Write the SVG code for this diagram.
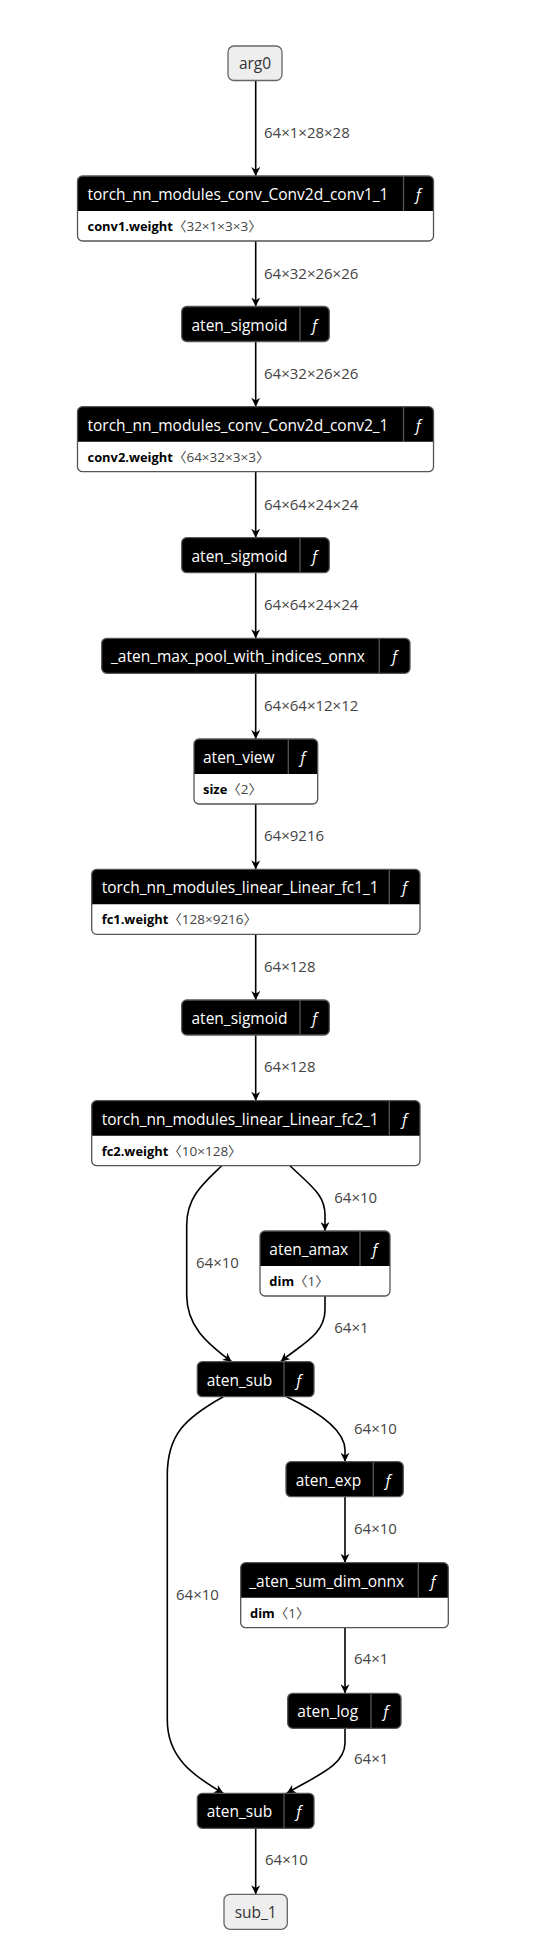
<svg xmlns="http://www.w3.org/2000/svg" width="547" height="1957" viewBox="0 0 547 1957">
<style>
text{font-family:"Open Sans","Noto Sans","Noto Sans CJK SC",sans-serif}
.bg{fill:#fff}
.io{fill:#eeeeee;stroke:#666;stroke-width:1.3}
.io-t{font-size:15.5px;fill:#333;text-anchor:middle}
.hdr{fill:#000}
.body{fill:#fff}
.out{fill:none;stroke:#555;stroke-width:1.3}
.sep{stroke:#555;stroke-width:1.3}
.ht{font-size:15.5px;fill:#fff}
.fn{font-size:15.5px;fill:#fff;font-style:italic;text-anchor:middle}
.at{font-size:13.5px;fill:#444}
.an{font-weight:bold;fill:#000;font-size:12.9px}
.edge{fill:none;stroke:#000;stroke-width:1.6;marker-end:url(#ah)}
.el{font-size:15px;fill:#444}
</style>
<defs>
<marker id="ah" viewBox="0 0 10 10" refX="10" refY="5" markerWidth="9" markerHeight="9" markerUnits="userSpaceOnUse" orient="auto">
<path d="M0,0 L10,5 L0,10 L3,5 z" fill="#000"/>
</marker>
</defs>
<rect class="bg" x="0" y="0" width="547" height="1957"/>

<g id="edges">
<path class="edge" d="M255.7,80.5 V176"/>
<path class="edge" d="M255.7,241 V306.5"/>
<path class="edge" d="M255.7,341.5 V406.7"/>
<path class="edge" d="M255.7,471.7 V537.7"/>
<path class="edge" d="M255.7,572.7 V638.3"/>
<path class="edge" d="M255.7,673.3 V739"/>
<path class="edge" d="M255.7,804 V869.3"/>
<path class="edge" d="M255.7,934.3 V1000"/>
<path class="edge" d="M255.7,1035 V1100.7"/>
<path class="edge" d="M221.7,1165.7 C205,1182 186.7,1196 186.7,1225 L186.7,1295 C186.7,1325 205,1342 231.7,1361.7"/>
<path class="edge" d="M290,1165.7 C312,1187 325,1195 325,1215 L325,1231"/>
<path class="edge" d="M325,1296 L325,1310 C325,1335 300,1345 280.7,1361.7"/>
<path class="edge" d="M223.3,1396.7 C185,1418 167.3,1435 167.3,1475 L167.3,1720 C167.3,1757 192,1775 223.3,1793.3"/>
<path class="edge" d="M286.7,1396.7 C325,1415 345,1432 345,1450 L345,1461.7"/>
<path class="edge" d="M345,1496.7 V1562.7"/>
<path class="edge" d="M345,1627.7 V1693.3"/>
<path class="edge" d="M345,1728.3 L345,1743 C345,1765 318,1775 286.7,1793.3"/>
<path class="edge" d="M255.7,1828.3 V1894.3"/>
<text class="el" x="264" y="138">64×1×28×28</text>
<text class="el" x="264" y="279">64×32×26×26</text>
<text class="el" x="264" y="379">64×32×26×26</text>
<text class="el" x="264" y="510">64×64×24×24</text>
<text class="el" x="264" y="610">64×64×24×24</text>
<text class="el" x="264" y="711">64×64×12×12</text>
<text class="el" x="264" y="841">64×9216</text>
<text class="el" x="264" y="972">64×128</text>
<text class="el" x="264" y="1072">64×128</text>
<text class="el" x="334.3" y="1203">64×10</text>
<text class="el" x="196" y="1268">64×10</text>
<text class="el" x="334.3" y="1333">64×1</text>
<text class="el" x="354" y="1434">64×10</text>
<text class="el" x="354" y="1534">64×10</text>
<text class="el" x="176" y="1600">64×10</text>
<text class="el" x="354" y="1664">64×1</text>
<text class="el" x="354" y="1764">64×1</text>
<text class="el" x="265" y="1865">64×10</text>
</g>

<g id="arg0">
<rect class="io" x="228" y="46" width="54" height="34.5" rx="6"/>
<text class="io-t" x="255" y="69">arg0</text>
</g>

<g id="conv1">
<rect class="hdr" x="77.5" y="176" width="356" height="65" rx="5"/>
<path class="body" d="M77.5,211 H433.5 V236 Q433.5,241 428.5,241 H82.5 Q77.5,241 77.5,236 Z"/>
<rect class="out" x="77.5" y="176" width="356" height="65" rx="5"/>
<line class="sep" x1="403.5" y1="176" x2="403.5" y2="211"/>
<text class="ht" x="87.5" y="200">torch_nn_modules_conv_Conv2d_conv1_1</text>
<text class="fn" x="418.5" y="200">ƒ</text>
<text class="at" x="87.5" y="231"><tspan class="an">conv1.weight</tspan>〈32×1×3×3〉</text>
</g>

<g id="sigmoid1">
<rect class="hdr" x="181.7" y="306.5" width="147.6" height="35" rx="5"/>
<rect class="out" x="181.7" y="306.5" width="147.6" height="35" rx="5"/>
<line class="sep" x1="300" y1="306.5" x2="300" y2="341.5"/>
<text class="ht" x="191.5" y="330.5">aten_sigmoid</text>
<text class="fn" x="314.7" y="330.5">ƒ</text>
</g>

<g id="conv2">
<rect class="hdr" x="77.5" y="406.7" width="356" height="65" rx="5"/>
<path class="body" d="M77.5,441.7 H433.5 V466.7 Q433.5,471.7 428.5,471.7 H82.5 Q77.5,471.7 77.5,466.7 Z"/>
<rect class="out" x="77.5" y="406.7" width="356" height="65" rx="5"/>
<line class="sep" x1="403.5" y1="406.7" x2="403.5" y2="441.7"/>
<text class="ht" x="87.5" y="430.7">torch_nn_modules_conv_Conv2d_conv2_1</text>
<text class="fn" x="418.5" y="430.7">ƒ</text>
<text class="at" x="87.5" y="461.7"><tspan class="an">conv2.weight</tspan>〈64×32×3×3〉</text>
</g>

<g id="sigmoid2">
<rect class="hdr" x="181.7" y="537.7" width="147.6" height="35" rx="5"/>
<rect class="out" x="181.7" y="537.7" width="147.6" height="35" rx="5"/>
<line class="sep" x1="300" y1="537.7" x2="300" y2="572.7"/>
<text class="ht" x="191.5" y="561.7">aten_sigmoid</text>
<text class="fn" x="314.7" y="561.7">ƒ</text>
</g>

<g id="maxpool">
<rect class="hdr" x="101.7" y="638.3" width="308.3" height="35" rx="5"/>
<rect class="out" x="101.7" y="638.3" width="308.3" height="35" rx="5"/>
<line class="sep" x1="379.3" y1="638.3" x2="379.3" y2="673.3"/>
<text class="ht" x="111" y="662.3">_aten_max_pool_with_indices_onnx</text>
<text class="fn" x="394.7" y="662.3">ƒ</text>
</g>

<g id="view">
<rect class="hdr" x="194" y="739" width="123.7" height="65" rx="5"/>
<path class="body" d="M194,774 H317.7 V799 Q317.7,804 312.7,804 H199 Q194,804 194,799 Z"/>
<rect class="out" x="194" y="739" width="123.7" height="65" rx="5"/>
<line class="sep" x1="288.3" y1="739" x2="288.3" y2="774"/>
<text class="ht" x="203" y="763">aten_view</text>
<text class="fn" x="303" y="763">ƒ</text>
<text class="at" x="203" y="794"><tspan class="an">size</tspan>〈2〉</text>
</g>

<g id="fc1">
<rect class="hdr" x="91.7" y="869.3" width="328.3" height="65" rx="5"/>
<path class="body" d="M91.7,904.3 H420 V929.3 Q420,934.3 415,934.3 H96.7 Q91.7,934.3 91.7,929.3 Z"/>
<rect class="out" x="91.7" y="869.3" width="328.3" height="65" rx="5"/>
<line class="sep" x1="389.3" y1="869.3" x2="389.3" y2="904.3"/>
<text class="ht" x="101.7" y="893.3">torch_nn_modules_linear_Linear_fc1_1</text>
<text class="fn" x="404.7" y="893.3">ƒ</text>
<text class="at" x="101.7" y="924.3"><tspan class="an">fc1.weight</tspan>〈128×9216〉</text>
</g>

<g id="sigmoid3">
<rect class="hdr" x="181.7" y="1000" width="147.6" height="35" rx="5"/>
<rect class="out" x="181.7" y="1000" width="147.6" height="35" rx="5"/>
<line class="sep" x1="300" y1="1000" x2="300" y2="1035"/>
<text class="ht" x="191.5" y="1024">aten_sigmoid</text>
<text class="fn" x="314.7" y="1024">ƒ</text>
</g>

<g id="fc2">
<rect class="hdr" x="91.7" y="1100.7" width="328.3" height="65" rx="5"/>
<path class="body" d="M91.7,1135.7 H420 V1160.7 Q420,1165.7 415,1165.7 H96.7 Q91.7,1165.7 91.7,1160.7 Z"/>
<rect class="out" x="91.7" y="1100.7" width="328.3" height="65" rx="5"/>
<line class="sep" x1="389.3" y1="1100.7" x2="389.3" y2="1135.7"/>
<text class="ht" x="101.7" y="1124.7">torch_nn_modules_linear_Linear_fc2_1</text>
<text class="fn" x="404.7" y="1124.7">ƒ</text>
<text class="at" x="101.7" y="1155.7"><tspan class="an">fc2.weight</tspan>〈10×128〉</text>
</g>

<g id="amax">
<rect class="hdr" x="260" y="1231" width="130" height="65" rx="5"/>
<path class="body" d="M260,1266 H390 V1291 Q390,1296 385,1296 H265 Q260,1296 260,1291 Z"/>
<rect class="out" x="260" y="1231" width="130" height="65" rx="5"/>
<line class="sep" x1="360" y1="1231" x2="360" y2="1266"/>
<text class="ht" x="269.3" y="1255">aten_amax</text>
<text class="fn" x="375" y="1255">ƒ</text>
<text class="at" x="269.3" y="1286"><tspan class="an">dim</tspan>〈1〉</text>
</g>

<g id="sub">
<rect class="hdr" x="197.3" y="1361.7" width="116.7" height="35" rx="5"/>
<rect class="out" x="197.3" y="1361.7" width="116.7" height="35" rx="5"/>
<line class="sep" x1="284" y1="1361.7" x2="284" y2="1396.7"/>
<text class="ht" x="206.7" y="1385.7">aten_sub</text>
<text class="fn" x="299" y="1385.7">ƒ</text>
</g>

<g id="exp">
<rect class="hdr" x="286" y="1461.7" width="117.3" height="35" rx="5"/>
<rect class="out" x="286" y="1461.7" width="117.3" height="35" rx="5"/>
<line class="sep" x1="373.3" y1="1461.7" x2="373.3" y2="1496.7"/>
<text class="ht" x="295.7" y="1485.7">aten_exp</text>
<text class="fn" x="388.3" y="1485.7">ƒ</text>
</g>

<g id="sumdim">
<rect class="hdr" x="240.7" y="1562.7" width="207.6" height="65" rx="5"/>
<path class="body" d="M240.7,1597.7 H448.3 V1622.7 Q448.3,1627.7 443.3,1627.7 H245.7 Q240.7,1627.7 240.7,1622.7 Z"/>
<rect class="out" x="240.7" y="1562.7" width="207.6" height="65" rx="5"/>
<line class="sep" x1="418.3" y1="1562.7" x2="418.3" y2="1597.7"/>
<text class="ht" x="249.3" y="1586.7">_aten_sum_dim_onnx</text>
<text class="fn" x="433.3" y="1586.7">ƒ</text>
<text class="at" x="250" y="1617.7"><tspan class="an">dim</tspan>〈1〉</text>
</g>

<g id="log">
<rect class="hdr" x="287.7" y="1693.3" width="113.3" height="35" rx="5"/>
<rect class="out" x="287.7" y="1693.3" width="113.3" height="35" rx="5"/>
<line class="sep" x1="371" y1="1693.3" x2="371" y2="1728.3"/>
<text class="ht" x="297.3" y="1717.3">aten_log</text>
<text class="fn" x="386" y="1717.3">ƒ</text>
</g>

<g id="sub2">
<rect class="hdr" x="197.3" y="1793.3" width="116.7" height="35" rx="5"/>
<rect class="out" x="197.3" y="1793.3" width="116.7" height="35" rx="5"/>
<line class="sep" x1="284" y1="1793.3" x2="284" y2="1828.3"/>
<text class="ht" x="206.7" y="1817.3">aten_sub</text>
<text class="fn" x="299" y="1817.3">ƒ</text>
</g>

<g id="sub_1">
<rect class="io" x="224" y="1894.3" width="63.3" height="35" rx="6"/>
<text class="io-t" x="255.7" y="1917.5">sub_1</text>
</g>
</svg>
